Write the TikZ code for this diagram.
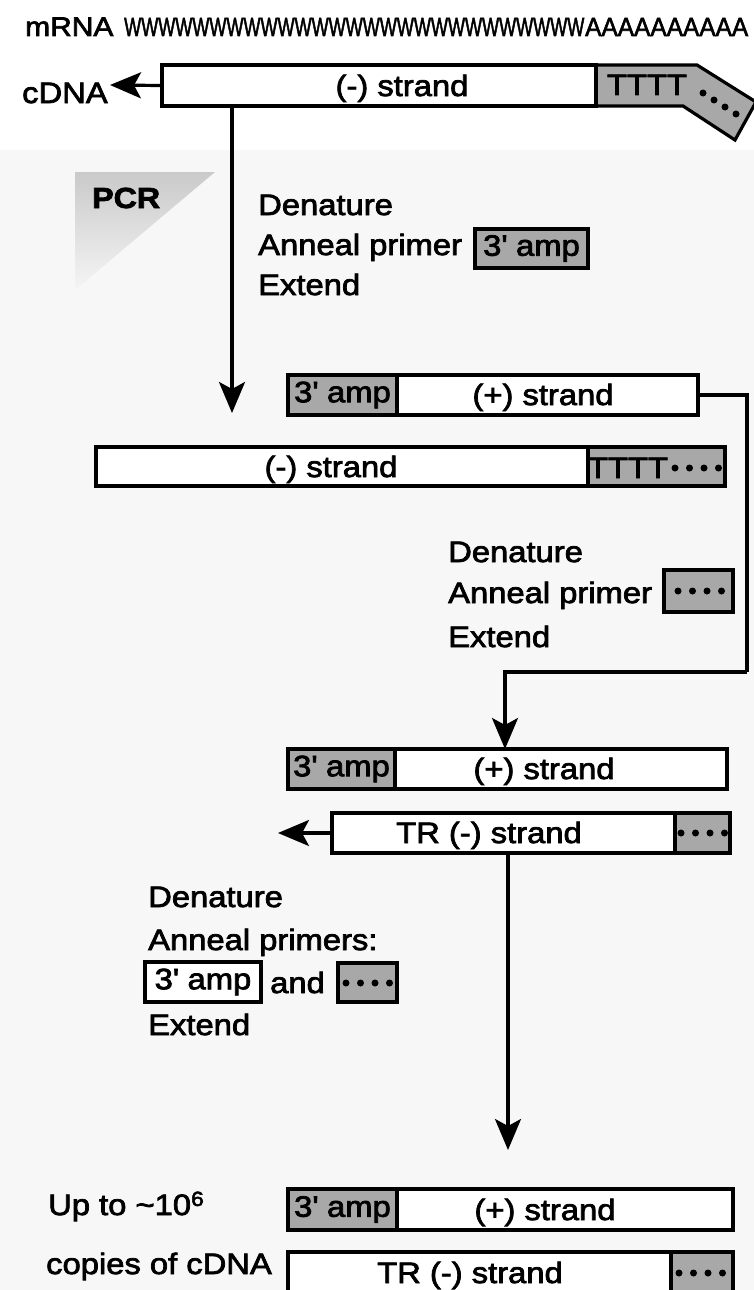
\documentclass[tikz,border=0pt]{standalone}
\usepackage{fontspec}
\setmainfont{Liberation Sans}[FakeStretch=1.11, FakeBold=2.5]
\usetikzlibrary{arrows.meta,calc}
\definecolor{boxgray}{HTML}{A8A8A8}
\newcommand\strandbox[7]{%
  \node[#1, minimum width={#5-#3}, minimum height={#6-#4}] (#2) at ({(#3+#5)/2},{(#4+#6)/2}) {#7};}
\newcommand\fourdots[2]{\foreach \k in {0,1,2,3}{\fill ({#1+14.5*\k},#2) circle (3.5);}}
\newcommand\amp{3\textquotesingle{} amp}
\begin{document}
\begin{tikzpicture}[x=1pt,y=-1pt,
  txt/.style={inner sep=0pt, anchor=base west, font=\fontsize{29.5}{34}\selectfont},
  ctxt/.style={inner sep=0pt, anchor=base, font=\fontsize{29.5}{34}\selectfont},
  wbox/.style={draw, line width=3.2pt, fill=white, inner sep=0pt, font=\fontsize{29.5}{34}\selectfont},
  gbox/.style={wbox, fill=boxgray},
  arr/.style={line width=3.2pt, -{Stealth[length=31pt,width=26pt,inset=7pt]}},
  conn/.style={line width=3.2pt}]
\useasboundingbox (0,0) rectangle (754,1290);
\fill[white] (0,0) rectangle (754,1290);
\fill[black!3] (0,150) rectangle (754,1290);

% mRNA line
\node[txt, font=\fontsize{27}{32}\selectfont] (mrna) at (25,36) {mRNA};
\node[inner sep=0pt, anchor=base west] (zig) at (124,36) {\resizebox{460pt}{18pt}{WWWWWWWWWWWWWWWWWWWWWWWWWWW}};
\node[inner sep=0pt, anchor=base west] (polya) at (585,36) {\resizebox{163pt}{18pt}{AAAAAAAAAA}};

% first cDNA strand
\draw[line width=3.2pt, fill=boxgray, line join=miter] (596,65) -- (697,65) -- (756,102) -- (735,140) -- (683,106) -- (596,106) -- cycle;
\strandbox{wbox}{box1}{162}{65}{596}{106}{}
\node[ctxt] (box1t) at (402,96) {(-) strand};
\node[ctxt] (tttt1) at (647,95) {TTTT};
\foreach \p in {(703,93),(714,100),(725,107),(736,114)} {\fill \p circle (3.5);}
\coordinate (tipc) at (110,85);
\draw[arr] (box1.west) -- (tipc);
\node[txt] (cdna) at (22,103) {cDNA};
\coordinate (t2) at (232,413);
\draw[arr] (t2 |- box1.south) -- (t2);

% PCR tab
\shade[top color=black!21, bottom color=black!4] (75,172) -- (215,172) -- (75,290) -- cycle;
\node[txt, font=\fontsize{29}{34}\selectfont\bfseries] (pcr) at (92,208) {PCR};

% step 1 text
\node[txt] (den1) at (258,215) {Denature};
\node[txt] (ann1) at (258,255) {Anneal primer};
\strandbox{gbox}{prim1}{475}{229}{588}{268}{\amp}
\node[txt] (ext1) at (258,295) {Extend};

% box 2 (+) and box 3 (-)
\strandbox{gbox}{amp2}{288}{375}{397}{415}{\amp}
\strandbox{wbox}{plus2}{397}{375}{698}{415}{}
\node[ctxt] (plus2t) at (543,405) {(+) strand};
\strandbox{wbox}{minus3}{96}{447}{588}{486}{}
\node[ctxt] (minus3t) at (331,477) {(-) strand};
\strandbox{gbox}{tail3}{588}{447}{725}{486}{}
\node[ctxt] (tttt3) at (628,478) {TTTT};
\fourdots{675}{468}

% connector to box 4
\coordinate (c1) at (747,672);
\coordinate (t4) at (505,749);
\draw[conn] (plus2.east) -| (c1);
\draw[arr] (c1) -| (t4);

% step 2 text
\node[txt] (den2) at (448,562) {Denature};
\node[txt] (ann2) at (448,603) {Anneal primer};
\strandbox{gbox}{prim2}{664}{570}{733}{612}{}
\fourdots{678}{591}
\node[txt] (ext2) at (448,647) {Extend};

% box 4 and 5
\strandbox{gbox}{amp4}{288}{749}{395}{789}{\amp}
\strandbox{wbox}{plus4}{395}{749}{727}{789}{}
\node[ctxt] (plus4t) at (544,779) {(+) strand};
\strandbox{wbox}{tr5}{332}{813}{675}{853}{}
\node[ctxt] (tr5t) at (489,843) {TR (-) strand};
\strandbox{gbox}{dot5}{675}{813}{730}{853}{}
\fourdots{681}{833}
\coordinate (t5) at (278,833);
\draw[arr] (tr5.west) -- (t5);
\coordinate (t6) at (508,1150);
\draw[arr] (t6 |- tr5.south) -- (t6);

% step 3 text
\node[txt] (den3) at (148,907) {Denature};
\node[txt] (ann3) at (148,950) {Anneal primers:};
\strandbox{wbox}{prim3a}{145}{962}{261}{1002}{\amp}
\node[txt] (and3) at (270,993) {and};
\strandbox{gbox}{prim3b}{338}{963}{397}{1002}{}
\fourdots{346}{983}
\node[txt] (ext3) at (148,1035) {Extend};

% final products
\strandbox{gbox}{amp6}{288}{1189}{397}{1230}{\amp}
\strandbox{wbox}{plus6}{397}{1189}{733}{1230}{}
\node[ctxt] (plus6t) at (545,1220) {(+) strand};
\strandbox{wbox}{tr7}{288}{1252}{671}{1294}{}
\node[ctxt] (tr7t) at (470,1283) {TR (-) strand};
\strandbox{gbox}{dot7}{671}{1252}{733}{1294}{}
\fourdots{679}{1273}
\node[txt] (upto) at (48,1215) {Up to \textasciitilde10\textsuperscript{6}};
\node[txt] (copies) at (46,1274) {copies of cDNA};
\end{tikzpicture}
\end{document}
